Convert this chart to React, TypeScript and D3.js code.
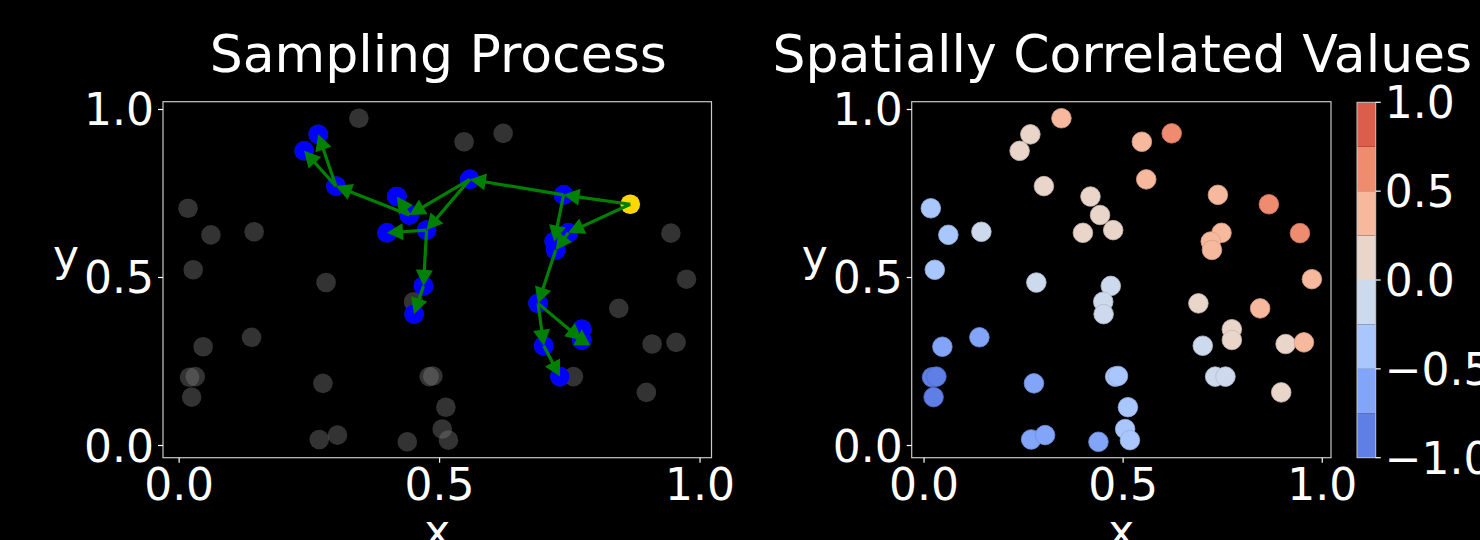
import React, { useEffect } from "react";
import * as d3 from "d3";

// ---- data ----
const xs = [
  0.345, 0.267, 0.240, 0.622, 0.547, 0.558, 0.301, 0.418, 0.442, 0.399,
  0.475, 0.738, 0.866, 0.747, 0.720, 0.723, 0.944, 0.017, 0.061, 0.144,
  0.027, 0.282, 0.974, 0.469, 0.450, 0.451, 0.689, 0.844, 0.773, 0.773,
  0.700, 0.908, 0.954, 0.731, 0.757, 0.897, 0.046, 0.139, 0.020, 0.031,
  0.024, 0.276, 0.480, 0.487, 0.512, 0.505, 0.517, 0.269, 0.304, 0.438,
];
const ys = [
  0.974, 0.926, 0.877, 0.929, 0.904, 0.792, 0.772, 0.741, 0.686, 0.633,
  0.641, 0.746, 0.718, 0.633, 0.607, 0.582, 0.632, 0.706, 0.627, 0.636,
  0.523, 0.485, 0.495, 0.475, 0.428, 0.391, 0.423, 0.408, 0.346, 0.314,
  0.297, 0.302, 0.307, 0.205, 0.205, 0.158, 0.294, 0.322, 0.203, 0.205,
  0.144, 0.185, 0.205, 0.207, 0.114, 0.049, 0.016, 0.018, 0.031, 0.011,
];
const vals = [
  0.35, 0.12, 0.08, 0.60, 0.38, 0.33, 0.10, 0.15, 0.05, 0.10,
  0.06, 0.30, 0.62, 0.40, 0.35, 0.30, 0.58, -0.40, -0.45, -0.15,
  -0.35, -0.10, 0.42, -0.12, -0.08, -0.15, 0.10, 0.45, 0.12, 0.05,
  -0.05, 0.15, 0.40, -0.20, -0.18, 0.10, -0.62, -0.55, -0.85, -0.80,
  -0.78, -0.60, -0.40, -0.35, -0.45, -0.48, -0.42, -0.65, -0.60, -0.70,
];
const startIdx = 12;
const edgeFrom = [12, 12, 11, 11, 13, 15, 26, 26, 29, 30, 5, 5, 8, 8, 6, 6, 10, 10, 23];
const edgeTo = [11, 13, 5, 14, 15, 26, 30, 29, 28, 33, 8, 10, 6, 7, 1, 2, 9, 23, 25];

const axisTicks = [0, 0.5, 1];
const axisTickLabels = ["0.0", "0.5", "1.0"];
const cbBounds = [-1, -0.75, -0.5, -0.25, 0, 0.25, 0.5, 0.75, 1];
const cbColors = ["#5f7ee6", "#82a5fa", "#aac7fd", "#cdd9ec", "#e9d5ca", "#f6b99d", "#ef8c6f", "#dc5d4b"];
const cbTicks = [-1, -0.5, 0, 0.5, 1];
const cbTickLabels = ["\u22121.0", "\u22120.5", "0.0", "0.5", "1.0"];

const FONT = "DejaVu Sans, Verdana, sans-serif";
const TICK_FS = 44;
const TITLE_FS = 52;
const SPINE = "#c8c8c8";
const R = 9.8;

const dom = [-0.031, 1.022];
const yDom = [-0.0363, 1.0232];
const top = 101.7, bottom = 457.7;

function arrowPath(x1: number, y1: number, x2: number, y2: number) {
  const hl = 16, hw = 17, sw = 3.2;
  const dx = x2 - x1, dy = y2 - y1;
  const L = Math.hypot(dx, dy);
  const ux = dx / L, uy = dy / L;
  const nx = -uy, ny = ux;
  const bx = x2 - ux * hl, by = y2 - uy * hl;
  const pts: [number, number][] = [];
  if (L > hl) {
    pts.push([x1 + nx * sw / 2, y1 + ny * sw / 2]);
    pts.push([bx + nx * sw / 2, by + ny * sw / 2]);
  }
  pts.push([bx + nx * hw / 2, by + ny * hw / 2]);
  pts.push([x2, y2]);
  pts.push([bx - nx * hw / 2, by - ny * hw / 2]);
  if (L > hl) {
    pts.push([bx - nx * sw / 2, by - ny * sw / 2]);
    pts.push([x1 - nx * sw / 2, y1 - ny * sw / 2]);
  }
  return "M" + pts.map((p) => p[0].toFixed(2) + "," + p[1].toFixed(2)).join("L") + "Z";
}

function colorFor(v: number) {
  let i = Math.floor((v + 1) / 0.25);
  i = Math.max(0, Math.min(7, i));
  return cbColors[i];
}

function Axes({ left, right, title, children, xOf }: any) {
  const y = d3.scaleLinear().domain(yDom).range([bottom, top]);
  const cx = (left + right) / 2;
  return (
    <g>
      <text x={cx + 1} y={72} fill="white" fontFamily={FONT} fontSize={TITLE_FS} textAnchor="middle">{title}</text>
      {children}
      <rect x={left} y={top} width={right - left} height={bottom - top} fill="none" stroke={SPINE} strokeWidth={1.2} />
      {axisTicks.map((t, i) => (
        <g key={"y" + i}>
          <line x1={left - 5} x2={left} y1={y(t)} y2={y(t)} stroke="white" strokeWidth={1.2} />
          <text x={left - 9} y={y(t) + 16} fill="white" fontFamily={FONT} fontSize={TICK_FS} textAnchor="end">{axisTickLabels[i]}</text>
        </g>
      ))}
      {axisTicks.map((t, i) => (
        <g key={"x" + i}>
          <line x1={xOf(t)} x2={xOf(t)} y1={bottom} y2={bottom + 5} stroke="white" strokeWidth={1.2} />
          <text x={xOf(t)} y={bottom + 42} fill="white" fontFamily={FONT} fontSize={TICK_FS} textAnchor="middle">{axisTickLabels[i]}</text>
        </g>
      ))}
      <text x={left - 97} y={271} fill="white" fontFamily={FONT} fontSize={TICK_FS} textAnchor="middle">y</text>
      <text x={cx} y={546} fill="white" fontFamily={FONT} fontSize={TICK_FS} textAnchor="middle">x</text>
    </g>
  );
}

export default function App() {
  useEffect(() => {
    document.body.style.margin = "0";
    document.body.style.background = "black";
  }, []);

  const L0 = 163, L1 = 711.5;
  const R0 = 911.7, R1 = 1331;
  const xL = d3.scaleLinear().domain(dom).range([L0, L1]);
  const xR = d3.scaleLinear().domain(dom).range([R0, R1]);
  const y = d3.scaleLinear().domain(yDom).range([bottom, top]);
  const visited = new Set<number>([startIdx, ...edgeTo]);
  const idx = d3.range(xs.length);

  const cbX = 1357, cbW = 18.7;
  const yC = d3.scaleLinear().domain([-1, 1]).range([457.7, 102.3]);

  return (
    <svg width={1480} height={540} style={{ position: "absolute", left: 0, top: 0, display: "block", background: "black" }}>
      <rect x={0} y={0} width={1480} height={540} fill="black" />
      <Axes left={L0} right={L1} title="Sampling Process" xOf={xL}>
        {idx.map((i) => (
          <circle key={"g" + i} cx={xL(xs[i])} cy={y(ys[i])} r={R} fill="#808080" fillOpacity={0.4} />
        ))}
        {idx.filter((i) => visited.has(i) && i !== startIdx).map((i) => (
          <circle key={"b" + i} cx={xL(xs[i])} cy={y(ys[i])} r={R} fill="#0000ff" />
        ))}
        <circle cx={xL(xs[startIdx])} cy={y(ys[startIdx])} r={R} fill="#ffd700" />
        {edgeFrom.map((f, k) => (
          <path key={"a" + k} d={arrowPath(xL(xs[f]), y(ys[f]), xL(xs[edgeTo[k]]), y(ys[edgeTo[k]]))} fill="#008000" />
        ))}
      </Axes>
      <Axes left={R0} right={R1} title="Spatially Correlated Values" xOf={xR}>
        {idx.map((i) => {
          const c = colorFor(vals[i]);
          return (
            <circle key={"c" + i} cx={xR(xs[i])} cy={y(ys[i])} r={R} fill={c}
              stroke={(d3.color(c) as any).darker(0.4).toString()} strokeWidth={0.8} />
          );
        })}
      </Axes>
      {cbColors.map((c, i) => (
        <rect key={"cb" + i} x={cbX} y={yC(cbBounds[i + 1])} width={cbW} height={yC(cbBounds[i]) - yC(cbBounds[i + 1])} fill={c} />
      ))}
      <rect x={cbX} y={yC(1)} width={cbW} height={yC(-1) - yC(1)} fill="none" stroke={SPINE} strokeWidth={1} />
      {cbTicks.map((t, i) => (
        <g key={"ct" + i}>
          <line x1={cbX + cbW} x2={cbX + cbW + 5} y1={yC(t)} y2={yC(t)} stroke="white" strokeWidth={1.2} />
          <text x={cbX + cbW + 9} y={yC(t) + 16} fill="white" fontFamily={FONT} fontSize={TICK_FS} textAnchor="start">{cbTickLabels[i]}</text>
        </g>
      ))}
    </svg>
  );
}
